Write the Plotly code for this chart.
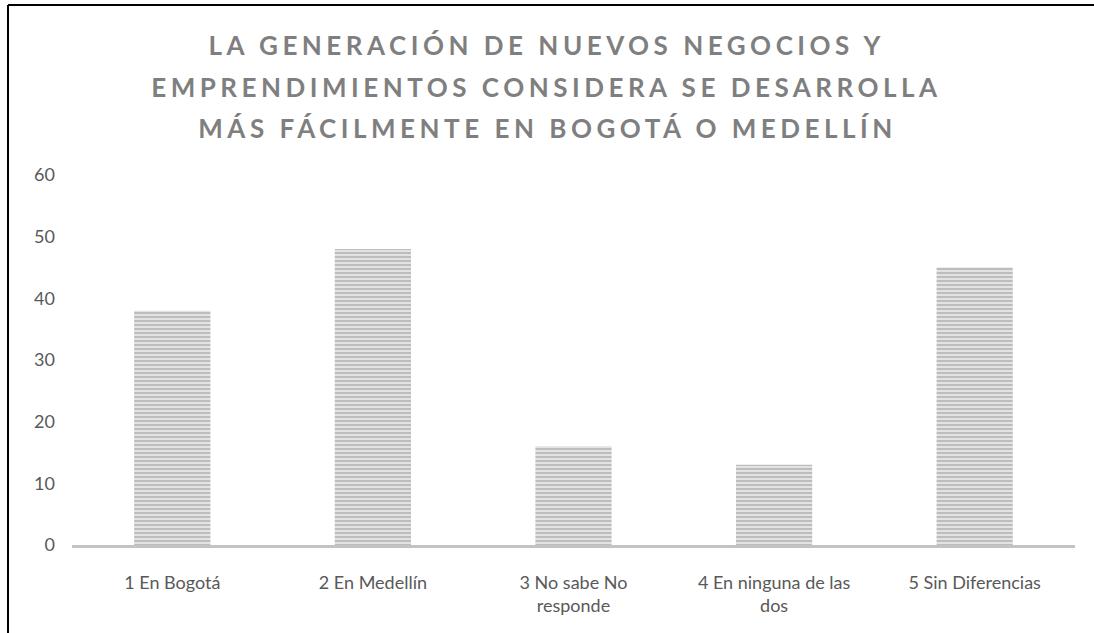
import plotly.graph_objects as go

CATEGORIES = [
    "1 En Bogotá",
    "2 En Medellín",
    "3 No sabe No<br>responde",
    "4 En ninguna de las<br>dos",
    "5 Sin Diferencias",
]
VALUES = [38, 48, 16, 13, 45]
TITLE_LINES = [
    "LA GENERACIÓN DE NUEVOS NEGOCIOS Y",
    "EMPRENDIMIENTOS CONSIDERA SE DESARROLLA",
    "MÁS FÁCILMENTE EN BOGOTÁ O MEDELLÍN",
]
Y_TICKS = [0, 10, 20, 30, 40, 50, 60]

FONT = "Lato"
TICK_COLOR = "#595959"
TITLE_COLOR = "#7f7f7f"

# plot area in pixels, used to place the frame lines in paper units
W, H = 1094, 633
L, R, T, B = 72, 19, 175, 88
PW, PH = W - L - R, H - T - B


def px_x(x):
    return (x - L) / PW


def px_y(y):
    return (H - B - y) / PH


fig = go.Figure(
    go.Bar(
        x=CATEGORIES,
        y=VALUES,
        width=0.38,
        marker={
            "color": "#e2e2e2",
            "line": {"width": 0},
            "pattern": {
                "shape": "-",
                "fgcolor": "#989898",
                "bgcolor": "#e2e2e2",
                "size": 4,
                "solidity": 0.5,
            },
        },
        hoverinfo="x+y",
    )
)

title_y = [45, 87, 128]
for line, y in zip(TITLE_LINES, title_y):
    fig.add_annotation(
        text=f"<b>{line}</b>",
        x=px_x(W / 2),
        xref="paper",
        y=px_y(y),
        yref="paper",
        xanchor="center",
        yanchor="middle",
        showarrow=False,
        font={"family": FONT, "size": 26, "color": TITLE_COLOR},
    )

# frame: top and left edges of the chart border
fig.add_shape(type="line", xref="paper", yref="paper",
              x0=px_x(8), x1=px_x(W + 5), y0=px_y(5), y1=px_y(5),
              line={"color": "black", "width": 2})
fig.add_shape(type="line", xref="paper", yref="paper",
              x0=px_x(8), x1=px_x(8), y0=px_y(5), y1=px_y(H + 5),
              line={"color": "black", "width": 2})

fig.update_layout(
    width=W,
    height=H,
    margin={"l": L, "r": R, "t": T, "b": B, "pad": 0},
    paper_bgcolor="white",
    plot_bgcolor="white",
    showlegend=False,
    font={"family": FONT, "size": 18, "color": TICK_COLOR},
    xaxis={
        "showgrid": False,
        "showline": True,
        "linecolor": "#c3c3c3",
        "linewidth": 3,
        "ticks": "",
        "ticklabelstandoff": 19,
        "tickfont": {"family": FONT, "size": 18, "color": TICK_COLOR},
    },
    yaxis={
        "range": [0, 60],
        "tickvals": Y_TICKS,
        "showgrid": False,
        "showline": False,
        "zeroline": False,
        "ticks": "",
        "ticklabelstandoff": 16,
        "tickfont": {"family": FONT, "size": 18, "color": TICK_COLOR},
    },
)

page_js = """
document.body.style.margin = '0';
document.querySelectorAll('.annotation-text').forEach(function (t) {
  t.style.letterSpacing = '4.5px';
});
"""

fig.write_html("out.html", post_script=page_js, config={"displayModeBar": False})
